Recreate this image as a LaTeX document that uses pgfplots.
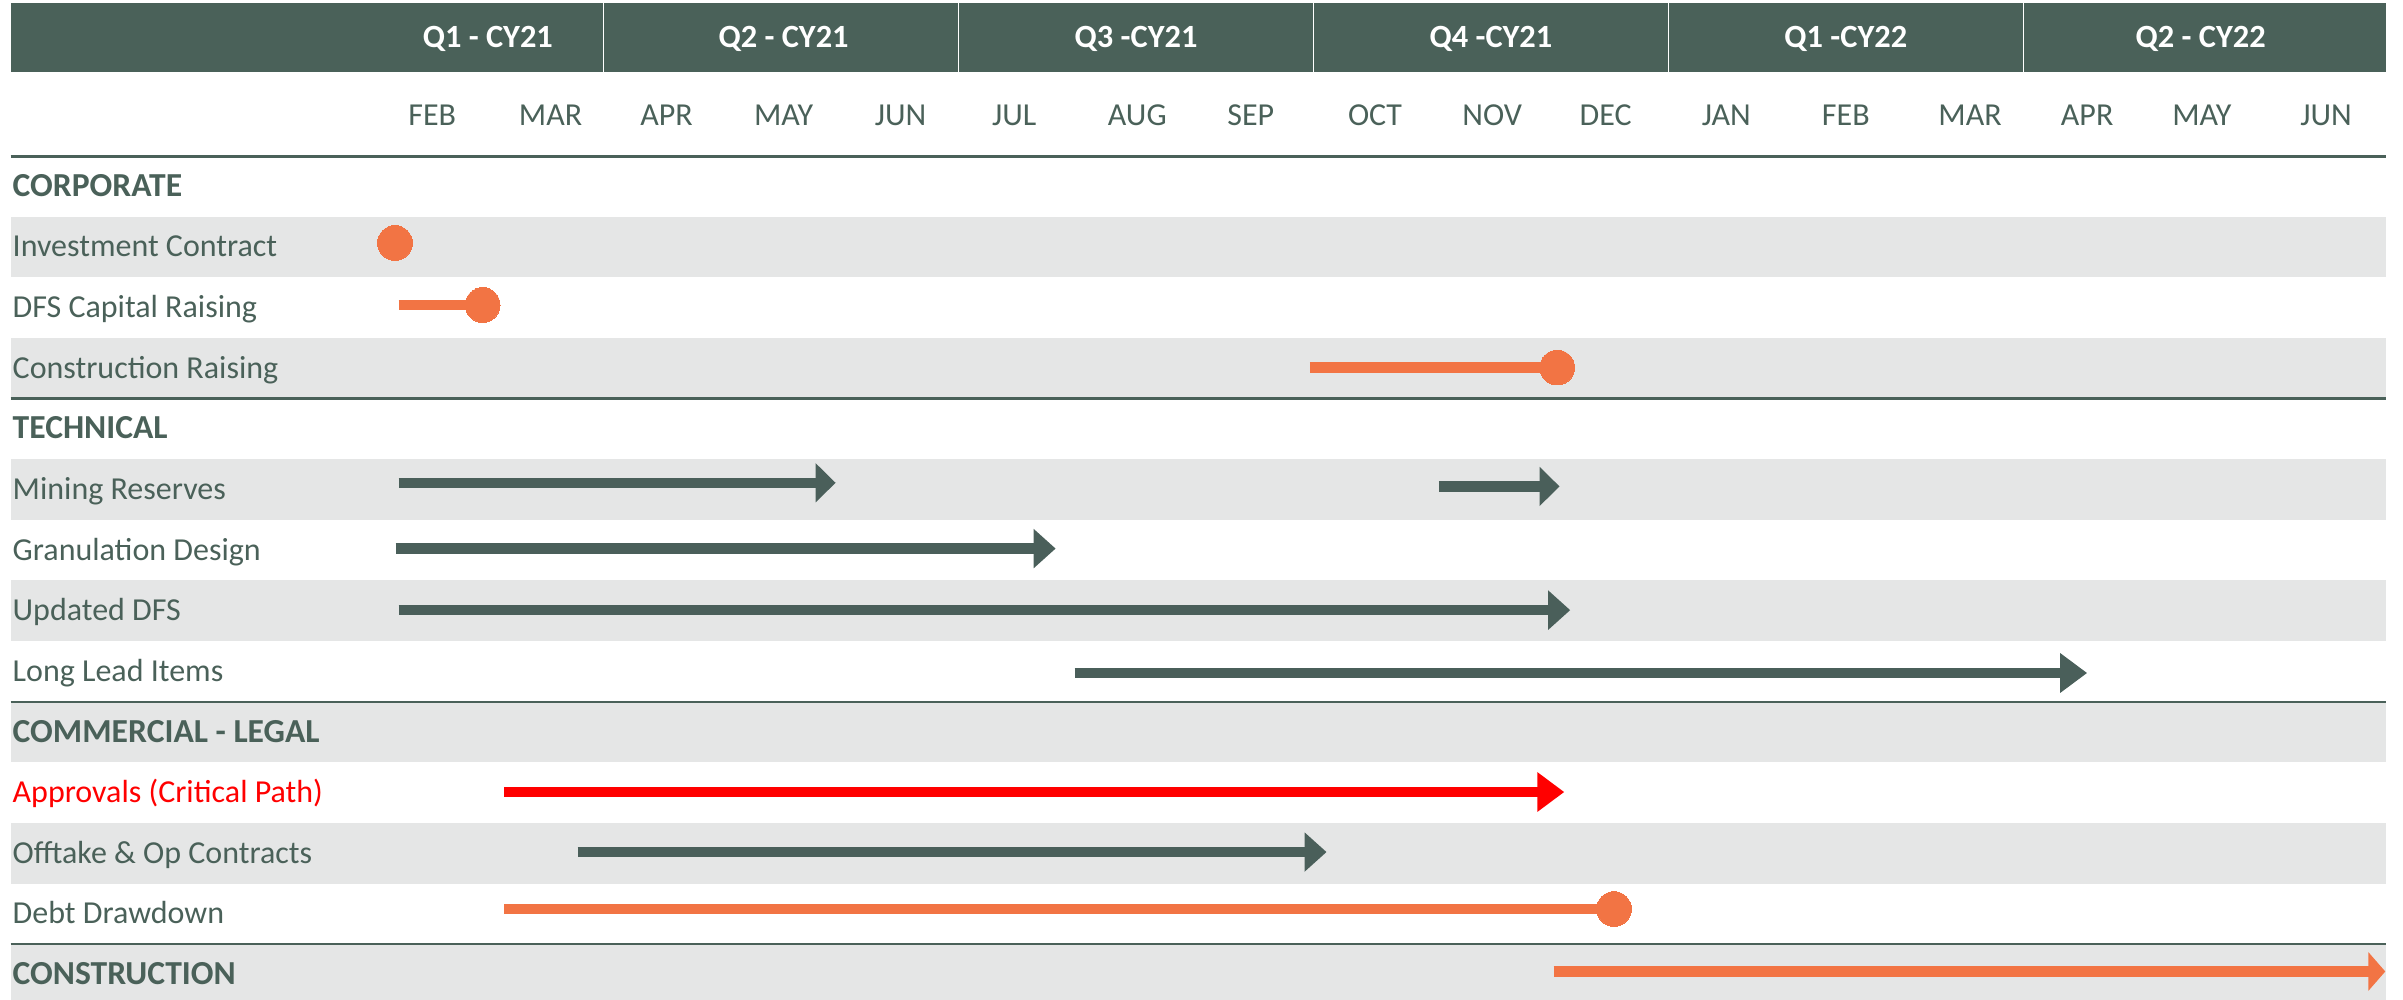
\documentclass[border=0pt]{standalone}
\usepackage{pgfplots}
\pgfplotsset{compat=1.18}
\usetikzlibrary{arrows.meta}
\usepackage{fontspec}
\setmainfont{Carlito}
\definecolor{hdr}{HTML}{4A6159}
\definecolor{rowgrey}{HTML}{E5E6E6}
\definecolor{org}{HTML}{F27444}
\definecolor{dk}{HTML}{4A5F5A}
\definecolor{crit}{HTML}{FF0000}
\tikzset{
  lbl/.style={anchor=west, inner sep=0pt, text height=10pt, text depth=0pt, text=hdr, font=\fontsize{16}{19}\selectfont},
  sec/.style={anchor=west, inner sep=0pt, text height=10pt, text depth=0pt, text=hdr, font=\fontsize{16.8}{20}\selectfont\bfseries},
  mon/.style={anchor=center, inner sep=0pt, text height=10pt, text depth=0pt, text=hdr, font=\fontsize{16}{19}\selectfont},
  qtr/.style={anchor=center, inner sep=0pt, text height=10pt, text depth=0pt, text=white, font=\fontsize{16.2}{19}\selectfont\bfseries},
}
\begin{document}
\begin{tikzpicture}
\begin{axis}[
  scale only axis, width=1201.5pt, height=500pt,
  xmin=-2.104, xmax=18.21, ymin=-13.42, ymax=3.073,
  axis lines=none, ticks=none, clip=false, enlargelimits=false,
]
\path (axis cs:-2.104,-13.42) rectangle (axis cs:18.21,3.073);
% alternating row shading
\fill[rowgrey] (axis cs:-2.014,-1.5) rectangle (axis cs:18.07,-0.5);
\fill[rowgrey] (axis cs:-2.014,-3.5) rectangle (axis cs:18.07,-2.5);
\fill[rowgrey] (axis cs:-2.014,-5.5) rectangle (axis cs:18.07,-4.5);
\fill[rowgrey] (axis cs:-2.014,-7.5) rectangle (axis cs:18.07,-6.5);
\fill[rowgrey] (axis cs:-2.014,-9.5) rectangle (axis cs:18.07,-8.5);
\fill[rowgrey] (axis cs:-2.014,-11.5) rectangle (axis cs:18.07,-10.5);
\fill[rowgrey] (axis cs:-2.014,-13.42) rectangle (axis cs:18.07,-12.5);
% header band
\fill[hdr] (axis cs:-2.014,1.885) rectangle (axis cs:18.07,3.02);
\draw[white, line width=0.6pt] (axis cs:3,1.885) -- (axis cs:3,3.02);
\draw[white, line width=0.6pt] (axis cs:6,1.885) -- (axis cs:6,3.02);
\draw[white, line width=0.6pt] (axis cs:9,1.885) -- (axis cs:9,3.02);
\draw[white, line width=0.6pt] (axis cs:12,1.885) -- (axis cs:12,3.02);
\draw[white, line width=0.6pt] (axis cs:15,1.885) -- (axis cs:15,3.02);
\node[qtr] at (axis cs:2.02,2.45) {Q1 - CY21};
\node[qtr] at (axis cs:4.52,2.45) {Q2 - CY21};
\node[qtr] at (axis cs:7.5,2.45) {Q3 -CY21};
\node[qtr] at (axis cs:10.5,2.45) {Q4 -CY21};
\node[qtr] at (axis cs:13.5,2.45) {Q1 -CY22};
\node[qtr] at (axis cs:16.5,2.45) {Q2 - CY22};
% months
\node[mon] at (axis cs:1.55,1.176) {FEB};
\node[mon] at (axis cs:2.55,1.176) {MAR};
\node[mon] at (axis cs:3.53,1.176) {APR};
\node[mon] at (axis cs:4.52,1.176) {MAY};
\node[mon] at (axis cs:5.51,1.176) {JUN};
\node[mon] at (axis cs:6.47,1.176) {JUL};
\node[mon] at (axis cs:7.51,1.176) {AUG};
\node[mon] at (axis cs:8.47,1.176) {SEP};
\node[mon] at (axis cs:9.52,1.176) {OCT};
\node[mon] at (axis cs:10.51,1.176) {NOV};
\node[mon] at (axis cs:11.47,1.176) {DEC};
\node[mon] at (axis cs:12.49,1.176) {JAN};
\node[mon] at (axis cs:13.5,1.176) {FEB};
\node[mon] at (axis cs:14.55,1.176) {MAR};
\node[mon] at (axis cs:15.54,1.176) {APR};
\node[mon] at (axis cs:16.51,1.176) {MAY};
\node[mon] at (axis cs:17.56,1.176) {JUN};
% rules
\draw[hdr, line width=1.8pt] (axis cs:-2.014,0.49) -- (axis cs:18.07,0.49);
\draw[hdr, line width=1.1pt] (axis cs:-2.014,-3.5) -- (axis cs:18.07,-3.5);
\draw[hdr, line width=1.1pt] (axis cs:-2.014,-8.5) -- (axis cs:18.07,-8.5);
\draw[hdr, line width=1.1pt] (axis cs:-2.014,-12.5) -- (axis cs:18.07,-12.5);
% row labels
\node[sec] at (axis cs:-2.0,0) {CORPORATE};
\node[lbl] at (axis cs:-2.0,-1) {Investment Contract};
\node[lbl] at (axis cs:-2.0,-2) {DFS Capital Raising};
\node[lbl] at (axis cs:-2.0,-3) {Construction Raising};
\node[sec] at (axis cs:-2.0,-4) {TECHNICAL};
\node[lbl] at (axis cs:-2.0,-5) {Mining Reserves};
\node[lbl] at (axis cs:-2.0,-6) {Granulation Design};
\node[lbl] at (axis cs:-2.0,-7) {Updated DFS};
\node[lbl] at (axis cs:-2.0,-8) {Long Lead Items};
\node[sec] at (axis cs:-2.0,-9) {COMMERCIAL - LEGAL};
\node[lbl, text=crit] at (axis cs:-2.0,-10) {Approvals (Critical Path)};
\node[lbl] at (axis cs:-2.0,-11) {Offtake \& Op Contracts};
\node[lbl] at (axis cs:-2.0,-12) {Debt Drawdown};
\node[sec] at (axis cs:-2.0,-13) {CONSTRUCTION};
% CORPORATE
\addplot[only marks, mark=*, mark size=8.7pt, color=org, mark options={line width=0pt}] coordinates {(1.235,-0.935)};
\addplot[org, line width=5.3pt] coordinates {(1.265,-1.958) (1.976,-1.958)};
\addplot[only marks, mark=*, mark size=8.7pt, color=org, mark options={line width=0pt}] coordinates {(1.976,-1.958)};
\addplot[org, line width=5.3pt] coordinates {(8.97,-2.99) (11.06,-2.99)};
\addplot[only marks, mark=*, mark size=8.7pt, color=org, mark options={line width=0pt}] coordinates {(11.06,-2.99)};
% TECHNICAL
\addplot[dk, line width=5.3pt, -{Triangle[width=19pt,length=10pt]}] coordinates {(1.265,-4.89) (4.96,-4.89)};
\addplot[dk, line width=5.3pt, -{Triangle[width=19pt,length=10pt]}] coordinates {(10.06,-4.95) (11.08,-4.95)};
\addplot[dk, line width=5.3pt, -{Triangle[width=19pt,length=11pt]}] coordinates {(1.24,-5.975) (6.82,-5.975)};
\addplot[dk, line width=5.3pt, -{Triangle[width=19pt,length=11pt]}] coordinates {(1.265,-6.99) (11.17,-6.99)};
\addplot[dk, line width=5.3pt, -{Triangle[width=19pt,length=13.5pt]}] coordinates {(6.98,-8.027) (15.54,-8.027)};
% COMMERCIAL - LEGAL
\addplot[crit, line width=5.3pt, -{Triangle[width=19pt,length=13.5pt]}] coordinates {(2.16,-9.99) (11.12,-9.99)};
\addplot[dk, line width=5.3pt, -{Triangle[width=19pt,length=11pt]}] coordinates {(2.78,-10.98) (9.11,-10.98)};
\addplot[org, line width=5.3pt] coordinates {(2.16,-11.92) (11.54,-11.92)};
\addplot[only marks, mark=*, mark size=8.7pt, color=org, mark options={line width=0pt}] coordinates {(11.54,-11.92)};
% CONSTRUCTION
\addplot[org, line width=5.3pt, -{Triangle[width=19pt,length=8.5pt]}] coordinates {(11.03,-12.95) (18.06,-12.95)};
\end{axis}
\end{tikzpicture}
\end{document}
